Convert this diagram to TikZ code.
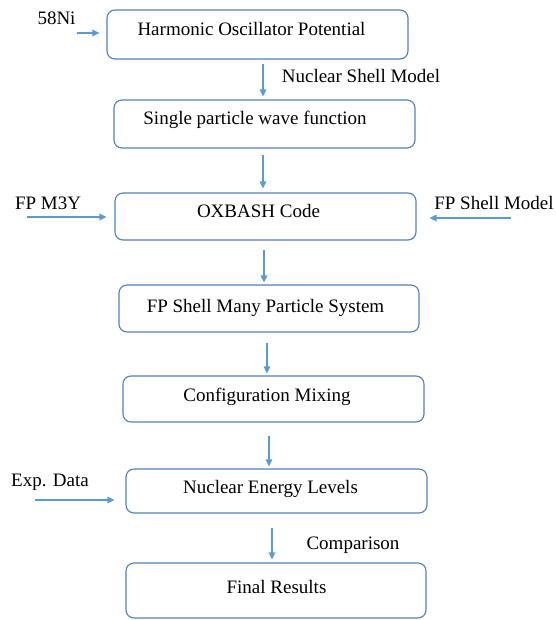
\documentclass[tikz,border=0pt]{standalone}
\usepackage{fontspec}
\setmainfont{Liberation Serif}
\usetikzlibrary{arrows.meta}
\definecolor{boxblue}{RGB}{79,129,189}
\definecolor{arrblue}{RGB}{91,155,213}
\begin{document}
\begin{tikzpicture}[x=1pt,y=-1pt,
  box/.style={draw=boxblue,line width=1.1pt,rounded corners=8pt,rectangle,inner sep=0pt,minimum width=#1},
  box/.default=301pt,
  txt/.style={anchor=base,inner sep=0pt,font=\fontsize{19}{22}\selectfont,text=black},
  arr/.style={draw=arrblue,line width=1.2pt,-{Triangle[length=7pt,width=6.5pt]}}]
\useasboundingbox (0,0) rectangle (555,620);
% boxes
\node[box, minimum height=49pt] (b1) at (257.5,34.5) {};
\node[box, minimum height=48pt] (b2) at (264.5,124) {};
\node[box, minimum height=47pt] (b3) at (265.5,216.5) {};
\node[box=300pt, minimum height=47pt] (b4) at (269,308.5) {};
\node[box, minimum height=46pt] (b5) at (273.5,399) {};
\node[box, minimum height=44pt] (b6) at (276.5,491) {};
\node[box=300pt, minimum height=55pt] (b7) at (276,590.5) {};
% box texts
\node[txt] (t1) at (251.5,36) {Harmonic Oscillator Potential};
\node[txt] (t2) at (255,125) {Single particle wave function};
\node[txt] (t3) at (258.5,218) {OXBASH Code};
\node[txt] (t4) at (265.5,312) {FP Shell Many Particle System};
\node[txt] (t5) at (267,401) {Configuration Mixing};
\node[txt] (t6) at (270.5,493) {Nuclear Energy Levels};
\node[txt] (t7) at (276.5,593) {Final Results};
% side labels
\node[txt] (l58) at (56.5,25) {58Ni};
\node[txt] (lnsm) at (361,83) {Nuclear Shell Model};
\node[txt] (lm3y) at (48,210) {FP M3Y};
\node[txt] (lfsm) at (494,210) {FP Shell Model};
\node[txt] (lexp) at (50,486) {Exp. Data};
\node[txt] (lcmp) at (353,549) {Comparison};
% arrow x positions
\coordinate (x12) at (263,0);
\coordinate (x23) at (263,0);
\coordinate (x34) at (264,0);
\coordinate (x45) at (267,0);
\coordinate (x56) at (269,0);
\coordinate (x67) at (272,0);
% vertical arrows
\draw[arr,shorten <=4pt,shorten >=3pt] (b1.south -| x12) -- (b2.north -| x12);
\draw[arr,shorten <=6pt,shorten >=4pt] (b2.south -| x23) -- (b3.north -| x23);
\draw[arr,shorten <=9pt,shorten >=2pt] (b3.south -| x34) -- (b4.north -| x34);
\draw[arr,shorten <=10pt,shorten >=2pt] (b4.south -| x45) -- (b5.north -| x45);
\draw[arr,shorten <=13pt,shorten >=2pt] (b5.south -| x56) -- (b6.north -| x56);
\draw[arr,shorten <=14pt,shorten >=3pt] (b6.south -| x67) -- (b7.north -| x67);
% side arrows
\coordinate (s58) at (77,33);
\coordinate (sm3y) at (27,217);
\coordinate (sfsm) at (511,218);
\coordinate (sexp) at (35,500);
\draw[arr,shorten >=7pt] (s58) -- (b1.west |- s58);
\draw[arr,shorten >=8pt] (sm3y) -- (b3.west |- sm3y);
\draw[arr,shorten >=13pt] (sfsm) -- (b3.east |- sfsm);
\draw[arr,shorten >=11pt] (sexp) -- (b6.west |- sexp);
\end{tikzpicture}
\end{document}
